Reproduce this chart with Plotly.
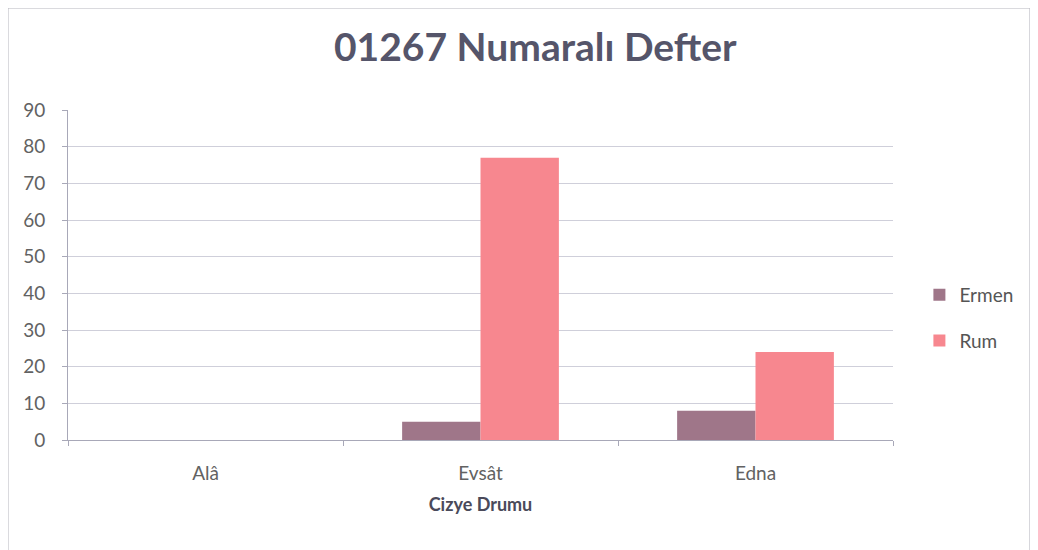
import plotly.graph_objects as go

categories = ["Alâ", "Evsât", "Edna"]
ermen = [0, 5, 8]
rum = [0, 77, 24]
series_names = ["Ermen", "Rum"]
title_text = "01267 Numaralı Defter"
x_title = "Cizye Drumu"

font_family = "Lato, Open Sans, DejaVu Sans, sans-serif"

fig = go.Figure()
fig.add_trace(go.Bar(x=categories, y=ermen, name=series_names[0], legendgroup="g1",
                     marker=dict(color="#9f7689", line=dict(width=0))))
fig.add_trace(go.Bar(x=categories, y=rum, name=series_names[1], legendgroup="g2",
                     marker=dict(color="#f7878f", line=dict(width=0))))

fig.update_layout(
    width=1038, height=550,
    paper_bgcolor="white", plot_bgcolor="white",
    margin=dict(l=60, r=153, t=102, b=118),
    barmode="group", bargap=0.43, bargroupgap=0,
    title=dict(text="<b>" + title_text + "</b>", x=0.508, xanchor="center", y=0.929, yanchor="middle",
               font=dict(family=font_family, size=39, color="#55556a")),
    font=dict(family=font_family, color="#5a5a5a"),
    legend=dict(x=1.032, y=0.37, xanchor="left", yanchor="middle",
                font=dict(size=19, color="#555"), itemwidth=30,
                tracegroupgap=18, bgcolor="rgba(0,0,0,0)"),
    showlegend=True,
)
fig.update_xaxes(
    showline=True, linecolor="#a8a8b8", linewidth=1,
    ticks="outside", tickson="boundaries", ticklen=5, tickcolor="#a8a8b8",
    tickfont=dict(size=19, color="#626262"), ticklabelstandoff=16,
    title=dict(text="<b>" + x_title + "</b>", font=dict(size=18, color="#4a4a5a"), standoff=15),
    showgrid=False,
)
fig.update_yaxes(
    range=[0, 90], dtick=10,
    showline=True, linecolor="#a8a8b8", linewidth=1,
    ticks="outside", ticklen=5, tickcolor="#a8a8b8",
    tickfont=dict(size=19, color="#626262"), ticklabelstandoff=13,
    showgrid=True, gridcolor="#cfcfda", gridwidth=1,
    zeroline=False,
)
fig.add_shape(type="rect", xref="paper", yref="paper",
              x0=-0.0727, x1=1.166, y0=-0.5, y1=1.309,
              line=dict(color="#b8b8c0", width=1), fillcolor="rgba(0,0,0,0)", layer="below")

fig.write_html("out.html")
